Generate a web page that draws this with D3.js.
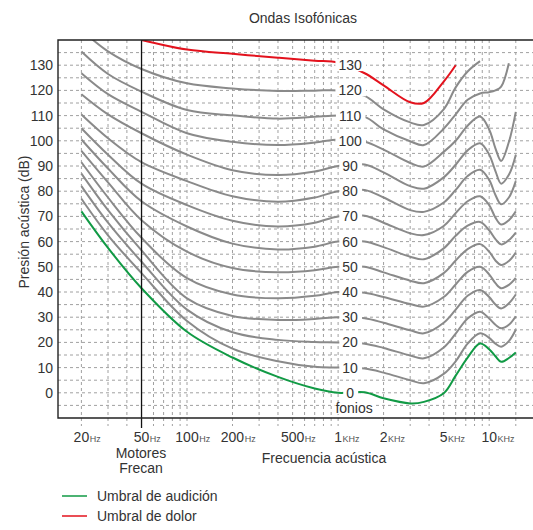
<!DOCTYPE html>
<html>
<head>
<meta charset="utf-8">
<script src="https://cdnjs.cloudflare.com/ajax/libs/d3/7.8.5/d3.min.js"></script>
<style>
  body { margin: 0; background: #fff; }
  svg text { font-family: "Liberation Sans", Arial, sans-serif; fill: #333; }
</style>
</head>
<body>
<div id="chart"></div>
<script>

var width = 533,
  height = 530;

var plotLeft = 58, plotRight = 533, plotTop = 40, plotBottom = 418;

// frequencies (Hz) where every contour is read
var freqs = [20, 30, 50, 100, 200, 400, 700, 1000,
  1500, 2000, 3000, 3700, 5000, 6000, 7200, 8700, 10000, 11000, 12000, 13500, 15000];

// sound pressure (dB) for each contour, null = not drawn
var phon0 = [72, 57.5, 41.5, 24.2, 14, 6.3, 1.7, 0,
  0.2, -2.2, -4.2, -3.6, -0.2, 6.8, 14, 19.6, 17.3, 14.5, 12.3, 13.8, 16];
var phon10 = [77, 62.5, 47.5, 28.5, 17.5, 12.5, 10.3, 10,
  9.6, 8, 5, 3.8, 7.5, 12.5, 19.5, 23.6, 21.8, 19.5, 18.3, 20.5, 25];
var phon20 = [82, 67.5, 52, 33, 24, 21, 20.2, 20,
  19.5, 17.8, 14.8, 13.7, 18, 23.5, 29.5, 32.2, 29.5, 27, 25.6, 27, 30.4];
var phon30 = [87, 72.5, 56.5, 37.5, 30.5, 28.9, 29.3, 30,
  29.6, 27.8, 24.8, 23.6, 27.8, 33, 38.5, 40.8, 38, 35, 33.5, 35.5, 39];
var phon40 = [91.5, 77.5, 61.5, 45.5, 39, 37.5, 38.5, 40,
  39.7, 38, 35.2, 34.2, 38, 43, 48, 50, 47, 43.5, 41.5, 42.8, 45.6];
var phon50 = [96, 83.5, 68.5, 56, 49.5, 47.8, 48.6, 50,
  50, 47.8, 44.5, 43.5, 47.5, 52.5, 57, 59, 56, 52.5, 50.7, 52.3, 55.6];
var phon60 = [100.5, 89, 76, 66, 59.2, 56.9, 58, 60,
  60, 57.8, 54, 53, 57.3, 62.3, 66.3, 67.8, 64.5, 61, 58.9, 60.6, 63.6];
var phon70 = [105, 94.5, 83, 74.5, 68.3, 66, 67.5, 70,
  70.3, 67.5, 63.3, 62.6, 66.2, 71.3, 76, 78, 74.5, 69.5, 66.8, 68.5, 72];
var phon80 = [110.4, 101, 91.5, 84, 78, 75.8, 77.5, 80,
  80.5, 77.5, 72.5, 71.8, 75.5, 80.5, 86, 88.5, 84.5, 78.5, 74.8, 77.5, 84];
var phon90 = [118.5, 110.5, 103, 94.5, 88.3, 86.4, 87.8, 90,
  90.6, 87.5, 82, 81, 85.5, 90.5, 96.2, 99, 94.5, 88, 83, 86.5, 94.4];
var phon100 = [126.8, 118.5, 111.5, 103, 99.6, 98.3, 99.3, 100.5,
  99.6, 96.5, 91.2, 89.8, 95.6, 100, 106, 109.6, 104.5, 97, 92, 99.5, 111.5];
var phon110 = [135.4, 126.5, 119.5, 112.2, 110.1, 108.8, 109.5, 110,
  109.5, 104.5, 99.8, 98.3, 104.8, 110.5, 116.3, 118.8, 119.3, 120, 121.5, 130.8, null];
var phon120 = [144, 135.5, 128.5, 122.8, 120.8, 119.8, 119.9, 120,
  117.8, 112.5, 107.3, 106.3, 112.5, 121.2, 127.5, 131.6, null, null, null, null, null];
var phon130 = [null, null, 140, 136.2, 134.5, 133, 131.8, 131,
  126.8, 122, 115.3, 115, 123.5, 130, null, null, null, null, null, null, null];

var grayPhons = [phon10, phon20, phon30, phon40, phon50, phon60, phon70, phon80, phon90, phon100, phon110, phon120];
var curveLabels = ["0", "10", "20", "30", "40", "50", "60", "70", "80", "90", "100", "110", "120", "130"];

var gridFreqs = [20, 30, 40, 50, 60, 70, 80, 90, 100, 200, 300, 400, 500, 600, 700, 800, 900,
  1000, 2000, 3000, 4000, 5000, 6000, 7000, 8000, 9000, 10000, 15000];
var yTicks = [0, 10, 20, 30, 40, 50, 60, 70, 80, 90, 100, 110, 120, 130];
var xTicks = [20, 50, 100, 200, 500, 1000, 2000, 5000, 10000];
var xTickNums = ["20", "50", "100", "200", "500", "1", "2", "5", "10"];
var xTickUnits = ["Hz", "Hz", "Hz", "Hz", "Hz", "KHz", "KHz", "KHz", "KHz"];

var gray = "#8a8a8a", green = "#119a45", red = "#e3121d";

var x = d3.scaleLog().domain([14, 19500]).range([plotLeft, plotRight]);
var y = d3.scaleLinear().domain([-10, 140]).range([plotBottom, plotTop]);

var svg = d3.select("#chart")
  .append("svg")
  .attr("width", width)
  .attr("height", height);

svg.append("defs").append("clipPath")
  .attr("id", "plot")
  .append("rect")
  .attr("x", plotLeft).attr("y", plotTop)
  .attr("width", plotRight - plotLeft).attr("height", plotBottom - plotTop);

// dashed grid
svg.append("g")
  .selectAll("line")
  .data(d3.range(-5, 136, 5))
  .enter().append("line")
  .attr("x1", plotLeft).attr("x2", plotRight)
  .attr("y1", function (d) { return y(d); })
  .attr("y2", function (d) { return y(d); })
  .attr("stroke", "#a0a0a0")
  .attr("stroke-dasharray", "3,3");

svg.append("g")
  .selectAll("line")
  .data(gridFreqs)
  .enter().append("line")
  .attr("x1", function (d) { return x(d); })
  .attr("x2", function (d) { return x(d); })
  .attr("y1", plotTop).attr("y2", plotBottom + 8)
  .attr("stroke", "#a0a0a0")
  .attr("stroke-dasharray", "3,3");

// contours
var line = d3.line()
  .defined(function (d) { return d[1] != null; })
  .x(function (d) { return x(d[0]); })
  .y(function (d) { return y(d[1]); })
  .curve(d3.curveCatmullRom.alpha(0.5));

function pairs(vals) {
  return freqs.map(function (f, i) { return [f, vals[i]]; });
}

var curves = svg.append("g").attr("clip-path", "url(#plot)");

curves.selectAll("path.gray")
  .data(grayPhons)
  .enter().append("path")
  .attr("class", "gray")
  .attr("d", function (d) { return line(pairs(d)); })
  .attr("fill", "none")
  .attr("stroke", gray)
  .attr("stroke-width", 2);

curves.append("path")
  .attr("d", line(pairs(phon0)))
  .attr("fill", "none").attr("stroke", green).attr("stroke-width", 2);

curves.append("path")
  .attr("d", line(pairs(phon130)))
  .attr("fill", "none").attr("stroke", red).attr("stroke-width", 2);

// 50 Hz marker and frame
svg.append("line")
  .attr("x1", x(50)).attr("x2", x(50))
  .attr("y1", plotTop).attr("y2", plotBottom + 10)
  .attr("stroke", "#111").attr("stroke-width", 1.3);

svg.append("path")
  .attr("d", "M" + plotRight + "," + plotTop + "H" + plotLeft + "V" + plotBottom + "H" + plotRight)
  .attr("fill", "none")
  .attr("stroke", "#222")
  .attr("stroke-width", 1.4);

// phon labels on the curves
var labelX = x(1000) + 12;
var labels = svg.append("g");
curveLabels.forEach(function (t) {
  var g = labels.append("g");
  var bg = g.append("rect").attr("fill", "#fff");
  var txt = g.append("text")
    .attr("x", labelX)
    .attr("y", y(+t))
    .attr("dy", "0.35em")
    .attr("text-anchor", "middle")
    .style("font-size", "14px")
    .text(t);
  var b = txt.node().getBBox();
  bg.attr("x", b.x - 3).attr("y", b.y + 2)
    .attr("width", b.width + 7).attr("height", b.height - 4);
});

var fon = labels.append("g");
var fonBg = fon.append("rect").attr("fill", "#fff");
var fonTxt = fon.append("text")
  .attr("x", labelX + 4).attr("y", 413)
  .attr("text-anchor", "middle")
  .style("font-size", "14px")
  .text("fonios");
var fb = fonTxt.node().getBBox();
fonBg.attr("x", fb.x - 1).attr("y", fb.y + 3).attr("width", fb.width + 2).attr("height", fb.height - 5);

// y axis labels
svg.append("g")
  .selectAll("text")
  .data(yTicks)
  .enter().append("text")
  .attr("x", 53)
  .attr("y", function (d) { return y(d); })
  .attr("dy", "0.35em")
  .attr("text-anchor", "end")
  .style("font-size", "14px")
  .text(function (d) { return d; });

// x axis labels: number + small unit
var xl = svg.append("g");
xTicks.forEach(function (f, i) {
  var num = xl.append("text")
    .attr("x", x(f))
    .attr("y", 442)
    .attr("text-anchor", "middle")
    .style("font-size", "14px")
    .text(xTickNums[i]);
  var w = num.node().getComputedTextLength();
  xl.append("text")
    .attr("x", x(f) + w / 2 + 0.5)
    .attr("y", 442)
    .style("font-size", "9px")
    .style("fill", "#555")
    .text(xTickUnits[i]);
});

svg.append("text")
  .attr("x", 141).attr("y", 458)
  .attr("text-anchor", "middle")
  .style("font-size", "14px")
  .text("Motores");
svg.append("text")
  .attr("x", 141).attr("y", 473)
  .attr("text-anchor", "middle")
  .style("font-size", "14px")
  .text("Frecan");

svg.append("text")
  .attr("x", 324).attr("y", 463)
  .attr("text-anchor", "middle")
  .style("font-size", "14px")
  .text("Frecuencia acústica");

svg.append("text")
  .attr("transform", "translate(29,222) rotate(-90)")
  .attr("text-anchor", "middle")
  .style("font-size", "14px")
  .text("Presión acústica (dB)");

svg.append("text")
  .attr("x", 303).attr("y", 23)
  .attr("text-anchor", "middle")
  .style("font-size", "14px")
  .text("Ondas Isofónicas");

// legend
var legend = [["Umbral de audición", green], ["Umbral de dolor", red]];
legend.forEach(function (d, i) {
  var ly = 496 + i * 20;
  svg.append("line")
    .attr("x1", 62).attr("x2", 87)
    .attr("y1", ly).attr("y2", ly)
    .attr("stroke", d[1]).attr("stroke-width", 1.5);
  svg.append("text")
    .attr("x", 97).attr("y", ly + 5)
    .style("font-size", "14px")
    .text(d[0]);
});

</script>
</body>
</html>
